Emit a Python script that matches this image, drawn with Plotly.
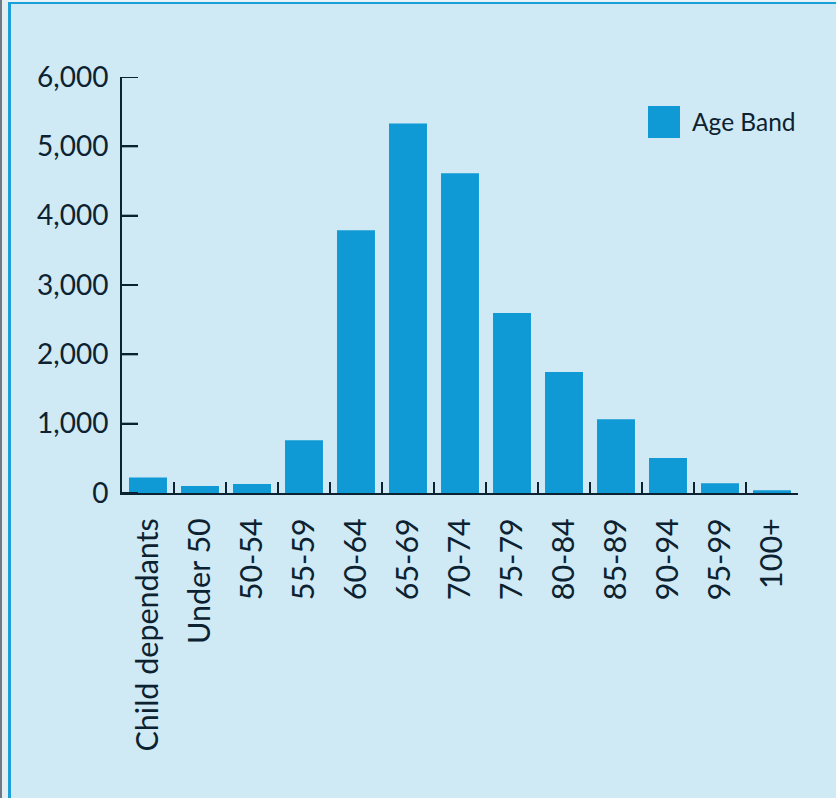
import plotly.graph_objects as go

categories = ["Child dependants", "Under 50", "50-54", "55-59", "60-64", "65-69",
              "70-74", "75-79", "80-84", "85-89", "90-94", "95-99", "100+"]
values = [225, 100, 130, 760, 3790, 5330, 4610, 2595, 1745, 1065, 505, 140, 40]
series_name = "Age Band"
y_ticks = [0, 1000, 2000, 3000, 4000, 5000, 6000]

W, H = 836, 798
L, R, T, B = 122, 38, 77, 305
PW, PH = W - L - R, H - T - B

def px(x):
    return (x - L) / PW

def py(y):
    return (H - B - y) / PH

BG = "rgb(207,233,245)"
BAR = "rgb(15,154,213)"
INK = "#0d2230"
FONT = "Lato, 'Open Sans', sans-serif"

fig = go.Figure()
fig.add_trace(go.Bar(x=categories, y=values, name=series_name, marker_color=BAR,
                     marker_line_width=0, showlegend=False))

fig.update_layout(
    width=W, height=H,
    margin=dict(l=L, r=R, t=T, b=B, pad=0),
    paper_bgcolor=BG, plot_bgcolor=BG,
    bargap=0.27,
    font=dict(family=FONT, color=INK, size=27),
)
fig.update_xaxes(
    type="category", showgrid=False, showline=True, linecolor=INK, linewidth=2,
    ticks="inside", tickson="boundaries", ticklen=11, tickwidth=2, tickcolor=INK,
    tickangle=-90, tickfont=dict(size=30.5, color=INK, family=FONT),
    ticklabelstandoff=11,
)
fig.update_yaxes(
    range=[0, 6000], tickvals=y_ticks, tickformat=",",
    showgrid=False, showline=True, linecolor=INK, linewidth=2, zeroline=False,
    ticks="inside", ticklen=16, tickwidth=2, tickcolor=INK,
    tickfont=dict(size=28, color=INK, family=FONT), ticklabelstandoff=6,
)

# y tick marks (inside), positioned through the y axis scale
for v in y_ticks:
    fig.add_shape(type="line", xref="x domain", yref="y", layer="above",
                  x0=0, x1=16 / PW, y0=v, y1=v,
                  line=dict(color=INK, width=2))

# legend (manual, to match large swatch)
fig.add_shape(type="rect", xref="paper", yref="paper",
              x0=px(648), x1=px(680), y0=py(138), y1=py(106),
              fillcolor=BAR, line_width=0)
fig.add_annotation(text=series_name, xref="paper", yref="paper",
                   x=px(690), y=py(122), xanchor="left", yanchor="middle",
                   showarrow=False, font=dict(size=24.5, color=INK, family=FONT))

# frame decorations
fig.add_shape(type="rect", xref="paper", yref="paper", layer="above",
              x0=px(0), x1=px(2), y0=py(H), y1=py(0), fillcolor="#6b7a84", line_width=0)
fig.add_shape(type="rect", xref="paper", yref="paper", layer="above",
              x0=px(2), x1=px(8), y0=py(H), y1=py(0), fillcolor="#e4eef2", line_width=0)
fig.add_shape(type="rect", xref="paper", yref="paper", layer="above",
              x0=px(8), x1=px(11), y0=py(H), y1=py(2), fillcolor="rgb(26,160,216)", line_width=0)
fig.add_shape(type="rect", xref="paper", yref="paper", layer="above",
              x0=px(8), x1=px(W), y0=py(4), y1=py(2), fillcolor="rgb(26,160,216)", line_width=0)
fig.add_shape(type="rect", xref="paper", yref="paper", layer="above",
              x0=px(8), x1=px(W), y0=py(2), y1=py(0), fillcolor="#e8f3f8", line_width=0)

fig.write_html("out.html")
